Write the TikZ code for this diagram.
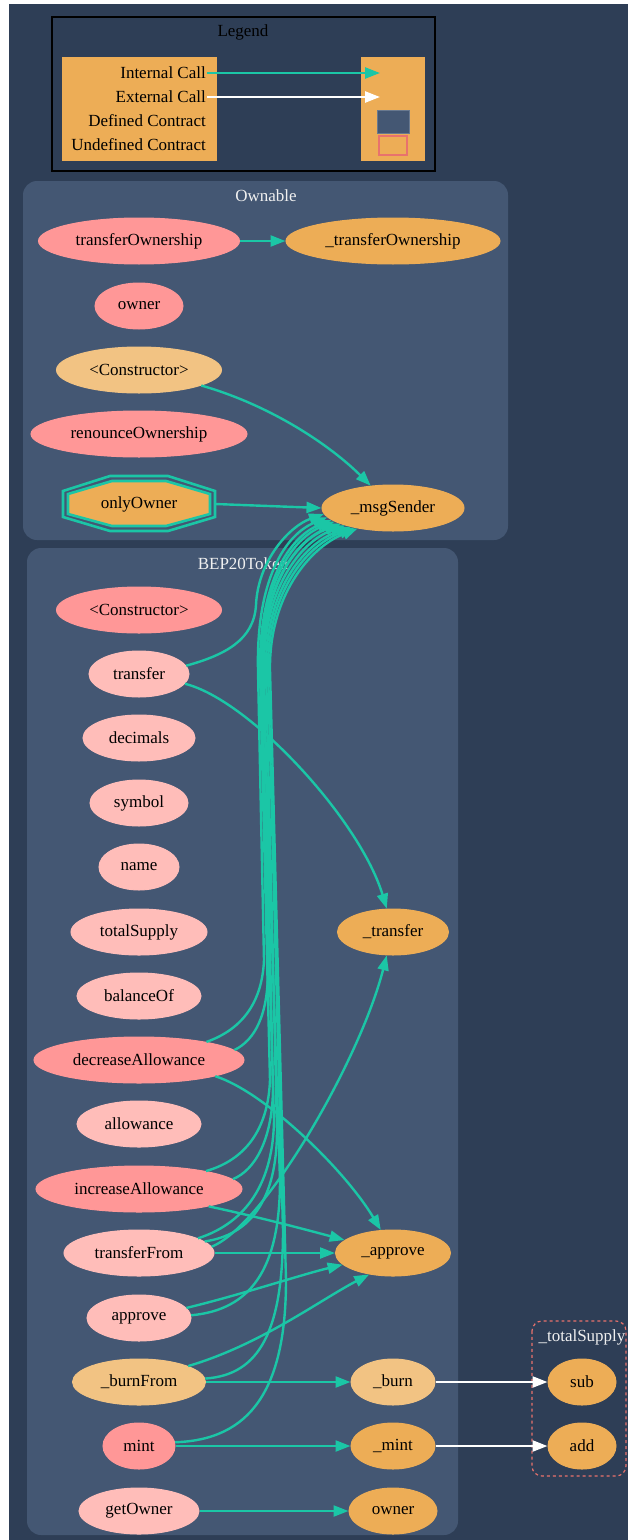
\documentclass[tikz,border=0pt]{standalone}
\usepackage{fontspec}
\setmainfont{Liberation Serif}
\usetikzlibrary{shapes.geometric,arrows.meta}
\definecolor{bg}{HTML}{2E3E56}
\definecolor{cl}{HTML}{445773}
\definecolor{priv}{HTML}{EDAD56}
\definecolor{intl}{HTML}{F2C383}
\definecolor{pub}{HTML}{FF9797}
\definecolor{ext}{HTML}{FFBDB9}
\definecolor{tealc}{HTML}{1BC6A6}
\definecolor{undef}{HTML}{E8726D}
\definecolor{ctext}{HTML}{F0F0F0}
\newcommand\myfs{\fontsize{17bp}{20bp}\selectfont}
\tikzset{
  fn/.style 2 args={ellipse, inner sep=0pt, minimum height=46bp, minimum width=#2bp,
     fill=#1, draw=#1, line width=1bp, font=\myfs, text=black},
  ctitle/.style={font=\myfs, text=ctext, inner sep=0pt},
  lg/.style={font=\myfs, text=black, inner sep=1bp, anchor=east},
  call/.style={draw=tealc, line width=2.4bp, -{Triangle[length=15bp,width=11bp]}},
  xcall/.style={call, draw=white},
}
\begin{document}
\begin{tikzpicture}[x=1bp,y=-1bp]
\useasboundingbox (0,0) rectangle (628,1540);
\fill[white] (0,0) rectangle (628,1540);
\fill[bg] (9,4) rectangle (628,1540);

% Legend
\draw[black, line width=1.5bp, fill=bg] (52,17) rectangle (435,171);
\node[font=\myfs, text=black, inner sep=0pt] (legt) at (243,32) {Legend};
\fill[priv] (62,57) rectangle (217,161);
\fill[priv] (361,57) rectangle (425,161);
\node[lg] (lic) at (207,73) {Internal Call};
\node[lg] (lec) at (207,97) {External Call};
\node[lg] (ldc) at (207,121) {Defined Contract};
\node[lg] (luc) at (207,145) {Undefined Contract};
\coordinate (lict) at (380,73);
\coordinate (lect) at (380,97);
\draw[call] (lic.east) -- (lict);
\draw[xcall] (lec.east) -- (lect);
\filldraw[fill=cl, draw=cl!80!white, line width=0.8bp] (377,110) rectangle (409,133);
\draw[undef, line width=1.2bp] (379,136) rectangle (407,155);

% Clusters
\fill[cl, rounded corners=14bp] (23,181) rectangle (508,540);
\node[ctitle] (ownt) at (266,196) {Ownable};
\fill[cl, rounded corners=14bp] (27,548) rectangle (458,1535);
\node[ctitle] (bept) at (243,564) {BEP20Token};
\draw[undef, dashed, rounded corners=10bp, line width=1.2bp] (532,1321) rectangle (626,1476);
\node[ctitle] (tst) at (582,1337) {\_totalSupply};

% Ownable nodes
\node[fn={pub}{201}] (o1) at (139,241) {transferOwnership};
\node[fn={priv}{214}] (o2) at (393,241) {\_transferOwnership};
\node[fn={pub}{88}] (o3) at (139,306) {owner};
\node[fn={intl}{165}] (o4) at (139,370) {<Constructor>};
\node[fn={pub}{216}] (o5) at (139,434) {renounceOwnership};
\draw[tealc, line width=2.6bp] (110,476) -- (168,476) -- (215,491) -- (215,517) -- (168,531) -- (110,531) -- (63,517) -- (63,491) -- cycle;
\filldraw[fill=priv, draw=tealc, line width=2.6bp] (112,481) -- (166,481) -- (210,494) -- (210,514) -- (166,526) -- (112,526) -- (68,514) -- (68,494) -- cycle;
\node[font=\myfs, text=black, minimum width=152bp, minimum height=55bp, inner sep=0pt] (oo) at (139,504) {onlyOwner};
\node[fn={priv}{142}] (msg) at (393,508) {\_msgSender};

% BEP20Token nodes
\node[fn={pub}{165}] (c) at (139,610) {<Constructor>};
\node[fn={ext}{100}] (tr) at (139,674) {transfer};
\node[fn={ext}{112}] (dec) at (139,738) {decimals};
\node[fn={ext}{98}] (sym) at (139,803) {symbol};
\node[fn={ext}{80}] (nm) at (139,867) {name};
\node[fn={ext}{136}] (ts) at (139,932) {totalSupply};
\node[fn={ext}{124}] (bo) at (139,996) {balanceOf};
\node[fn={pub}{210}] (da) at (139,1060) {decreaseAllowance};
\node[fn={ext}{124}] (al) at (139,1124) {allowance};
\node[fn={pub}{206}] (ia) at (139,1189) {increaseAllowance};
\node[fn={ext}{150}] (tf) at (139,1253) {transferFrom};
\node[fn={ext}{104}] (ap) at (139,1318) {approve};
\node[fn={intl}{133}] (bf) at (139,1382) {\_burnFrom};
\node[fn={pub}{72}] (mi) at (139,1446) {mint};
\node[fn={ext}{120}] (go) at (139,1511) {getOwner};

\node[fn={priv}{111}] (ttr) at (393,932) {\_transfer};
\node[fn={priv}{115}] (tap) at (393,1253) {\_approve};
\node[fn={intl}{84}] (tbu) at (393,1382) {\_burn};
\node[fn={priv}{84}] (tmi) at (393,1446) {\_mint};
\node[fn={priv}{88}] (tow) at (393,1511) {owner};
\node[fn={priv}{68}] (sub) at (582,1382) {sub};
\node[fn={priv}{68}] (add) at (582,1446) {add};

% Ownable edges
\draw[call] (o1.east) -- (o2.west);
\draw[call] (o4.-14) .. controls (270,405) and (330,445) .. (msg.135);
\draw[call] (oo.east) -- (msg.west);

% bundle to _msgSender
\draw[call] (tr.10) .. controls (225,655) and (254,640) .. (256,605) .. controls (258,560) and (290,526) .. (msg.185);
\draw[call] (da.15) .. controls (240,1030) and (262,1005) .. (264,960) -- (258,670) .. controls (256,580) and (285,535) .. (msg.188);
\draw[call] (da.6) .. controls (255,1040) and (268,1015) .. (268,970) -- (262,670) .. controls (261,585) and (297,540) .. (msg.196);
\draw[call] (ia.15) .. controls (245,1160) and (268,1130) .. (270,1080) -- (260,670) .. controls (259,582) and (290,537) .. (msg.191);
\draw[call] (ia.6) .. controls (255,1170) and (272,1140) .. (273,1090) -- (264,670) .. controls (263,590) and (300,542) .. (msg.200);
\draw[call] (tf.14) .. controls (240,1225) and (273,1190) .. (274,1120) -- (261,670) .. controls (260,584) and (293,538) .. (msg.193);
\draw[call] (tf.10) .. controls (250,1235) and (277,1200) .. (277,1130) -- (266,670) .. controls (265,592) and (303,544) .. (msg.204);
\draw[call] (ap.3) .. controls (250,1310) and (280,1270) .. (280,1180) -- (263,670) .. controls (262,586) and (296,540) .. (msg.197);
\draw[call] (bf.3) .. controls (260,1375) and (283,1330) .. (283,1230) -- (268,670) .. controls (267,595) and (305,546) .. (msg.207);
\draw[call] (mi.6) .. controls (250,1440) and (286,1390) .. (286,1280) -- (270,670) .. controls (269,598) and (308,548) .. (msg.210);

% other BEP20 edges
\draw[call] (tr.-12) .. controls (250,700) and (360,820) .. (ttr.105);
\draw[call] (tf.5) .. controls (265,1225) and (360,1060) .. (ttr.-105);
\draw[call] (da.-12) .. controls (265,1092) and (345,1170) .. (tap.118);
\draw[call] (ia.-14) .. controls (250,1215) and (300,1228) .. (tap.165);
\draw[call] (tf.east) -- (tap.west);
\draw[call] (ap.12) .. controls (240,1295) and (300,1275) .. (tap.193);
\draw[call] (bf.18) .. controls (260,1345) and (320,1300) .. (tap.222);
\draw[call] (bf.east) -- (tbu.west);
\draw[call] (mi.east) -- (tmi.west);
\draw[call] (go.east) -- (tow.west);
\draw[xcall] (tbu.east) -- (sub.west);
\draw[xcall] (tmi.east) -- (add.west);
\end{tikzpicture}
\end{document}
